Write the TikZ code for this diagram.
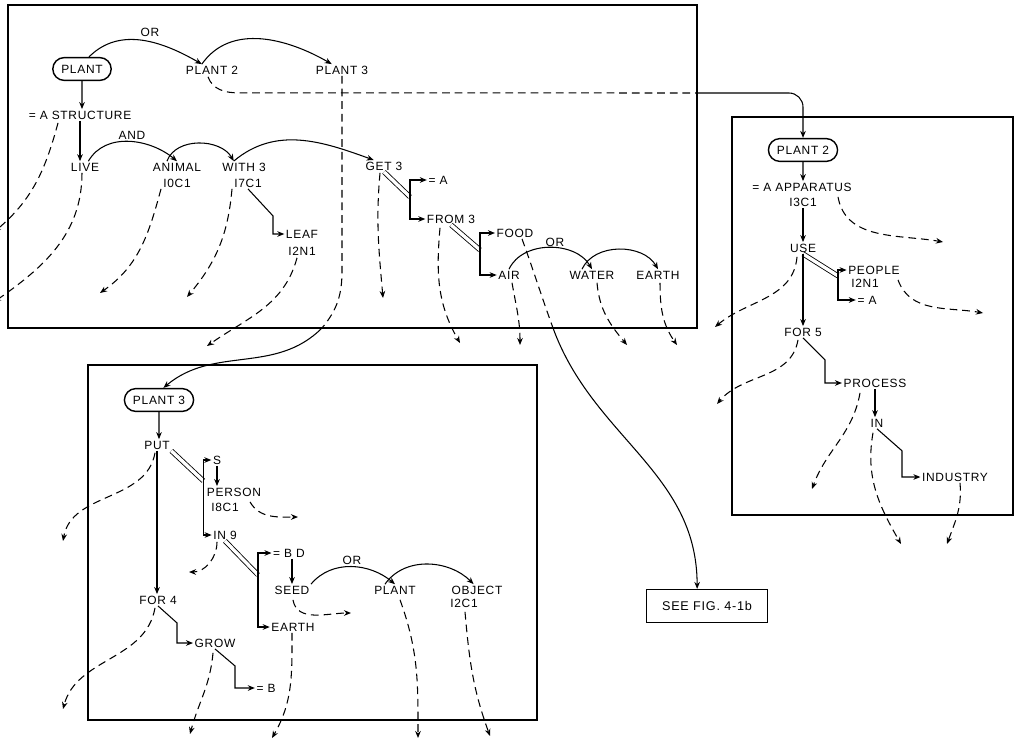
\documentclass[tikz,border=0pt]{standalone}
\usepackage{fontspec}
\newfontfamily\netfont[LetterSpace=6]{Liberation Sans}
\usetikzlibrary{arrows.meta, shapes.misc}
\tikzstyle{word}=[inner sep=1pt, font=\netfont\fontsize{8.5}{10}\selectfont]
\tikzstyle{head}=[word, rounded rectangle, draw, line width=1pt, inner xsep=5.5pt, minimum height=0.57cm]
\tikzstyle{link}=[line width=0.75pt, -{Stealth[length=5pt,width=4pt]}]
\tikzstyle{dashes}=[line width=0.75pt, dash pattern=on 5.5pt off 3.5pt]
\tikzstyle{assoc}=[dashes, -{Stealth[length=5pt,width=4pt]}]
\tikzstyle{pair}=[line width=0.6pt, double, double distance=2.4pt]
\tikzstyle{frame}=[line width=1.4pt]

\begin{document}
\begin{tikzpicture}[x=0.025cm, y=-0.025cm]
\useasboundingbox (0,0) rectangle (1016,741);

% Frames
\draw[frame] (8,5) rectangle (697,328);
\draw[frame] (88,365) rectangle (537,720);
\draw[frame] (732,117) rectangle (1013,515);

% PLANT, first sense
\node[head] (plant) at (82,69) {PLANT};
\node[word] (plantb) at (212,70) {PLANT 2};
\node[word] (plantc) at (342,70) {PLANT 3};
\node[word] (ortop) at (150,32) {OR};
\node[word] (structure) at (80,115) {= A STRUCTURE};
\node[word] (live) at (85,167) {LIVE};
\node[word] (andtop) at (132,135) {AND};
\node[word] (animal) at (177,167) {ANIMAL};
\node[word] (animalid) at (177,183) {I0C1};
\node[word] (with) at (244,167) {WITH 3};
\node[word] (withid) at (248,183) {I7C1};
\node[word] (leaf) at (302,234) {LEAF};
\node[word] (leafid) at (302,251) {I2N1};
\node[word] (get) at (384,166) {GET 3};
\node[word] (geta) at (438,180) {= A};
\node[word] (from) at (451,219) {FROM 3};
\node[word] (food) at (515,233) {FOOD};
\node[word] (orair) at (555,242) {OR};
\node[word] (air) at (509,275) {AIR};
\node[word] (water) at (592,275) {WATER};
\node[word] (earth) at (658,275) {EARTH};

% PLANT 2
\node[head] (plantr) at (803,150) {PLANT 2};
\node[word] (apparatus) at (802,187) {= A APPARATUS};
\node[word] (apparatusid) at (803,202) {I3C1};
\node[word] (use) at (803,248) {USE};
\node[word] (people) at (874,270) {PEOPLE};
\node[word] (peopleid) at (865,283) {I2N1};
\node[word] (usea) at (867,300) {= A};
\node[word] (forfive) at (803,332) {FOR 5};
\node[word] (process) at (875,383) {PROCESS};
\node[word] (inp) at (877,423) {IN};
\node[word] (industry) at (955,477) {INDUSTRY};

% PLANT 3
\node[head] (plantl) at (159,400) {PLANT 3};
\node[word] (put) at (157,445) {PUT};
\node[word] (subj) at (217,460) {S};
\node[word] (person) at (234,492) {PERSON};
\node[word] (personid) at (225,507) {I8C1};
\node[word] (innine) at (225,535) {IN 9};
\node[word] (bd) at (289,553) {= B D};
\node[word] (seed) at (292,590) {SEED};
\node[word] (orlow) at (352,560) {OR};
\node[word] (plantd) at (395,590) {PLANT};
\node[word] (object) at (477,590) {OBJECT};
\node[word] (objectid) at (464,603) {I2C1};
\node[word] (earthb) at (293,627) {EARTH};
\node[word] (forfour) at (158,600) {FOR 4};
\node[word] (grow) at (215,643) {GROW};
\node[word] (growb) at (266,688) {= B};

\node[word, draw, line width=1pt, minimum width=3.02cm, minimum height=0.82cm, font=\netfont\fontsize{9}{10}\selectfont] (see) at (707,606) {SEE FIG. 4-1b};

% where the long lines leave a frame
\coordinate (cut2) at (696,93);
\coordinate (cut3) at (322,328);
\coordinate (cutfood) at (553,328);

% OR / AND arcs
\draw[link] (plant.60) to[out=45,in=150] (plantb.150);
\draw[link] (plantb.150) to[out=55,in=150] (plantc.150);
\draw[link] (live.60) to[out=60,in=140] (animal.north);
\draw[link] (animal.150) to[out=70,in=120] (with.150);
\draw[link] (with.150) to[out=40,in=160] (get.150);
\draw[link] (air.north) to[out=65,in=120] (water.north);
\draw[link] (water.150) to[out=65,in=120] (earth.north);
\draw[link] (seed.north east) to[out=50,in=140] (plantd.north);
\draw[link] (plantd.150) to[out=55,in=135] (object.120);

% straight links
\draw[link] (plant) -- (plant |- structure.north);
\draw[link] (structure) -- (structure |- live.north);
\draw[link] (withid.south) -- ++(25,27) |- (leaf);
\draw[pair] (get.south) -- ++(26,25) coordinate (getfork);
\draw[link] (getfork) |- (geta);
\draw[link] (getfork) |- (from);
\draw[pair] (from.south) -- ++(29,25) coordinate (fromfork);
\draw[link] (fromfork) |- (food);
\draw[link] (fromfork) |- (air);

\draw[link] (plantr) -- (plantr |- apparatus.north);
\draw[link] (apparatusid) -- (use);
\draw[pair] (use.south) -- ++(35,22) coordinate (usefork);
\draw[link] (usefork) |- (people);
\draw[link] (usefork) |- (usea);
\draw[link] (use) -- (use |- forfive.north);
\draw[link] (forfive.south) -- ++(22,22) |- (process);
\draw[link] (process) -- (process |- inp.north);
\draw[link] (inp.south) -- ++(25,22) |- (industry);

\draw[link] (plantl) -- (plantl |- put.north);
\draw[link] (put) -- (put |- forfour.north);
\draw[pair] (put.south east) -- ++(32,30) coordinate (putfork);
\draw[link] (putfork) |- (subj);
\draw[link] (putfork) |- (innine);
\draw[link] (subj) -- (subj |- person.north);
\draw[pair] (innine.south) -- ++(33,34) coordinate (ninefork);
\draw[link] (ninefork) |- (bd);
\draw[link] (ninefork) |- (earthb);
\draw[link] (seed |- bd.south) -- (seed);
\draw[link] (forfour.south) -- ++(19,17) |- (grow);
\draw[link] (grow.south) -- ++(20,17) |- (growb);

% lines to the other senses
\draw[dashes] ([shift={(-4,1)}]plantb.south) to[out=-70,in=180] ++(30,16) -- (cut2);
\draw[link, rounded corners=10pt] (cut2) -| (plantr);
\draw[dashes] (plantc.south) -- ++(0,195) to[out=-90,in=50] (cut3);
\draw[link] (cut3) to[out=-135,in=40] (plantl.70);
\draw[dashes] ([shift={(7,0)}]food.south) to[out=-70,in=110] (cutfood);
\draw[link] (cutfood) to[out=-70,in=90] (see.120);

% dashed associations
\foreach \n/\dx/\dy/\ex/\ey/\o/\i in {
  structure/-22/2/-6/232/-105/40,
  live/-3/0/-6/302/-90/35,
  animalid/-16/0/100/293/-105/35,
  withid/-16/0/187/297/-95/50,
  leafid/-5/1/207/346/-105/35,
  get/-4/1/383/298/-95/95,
  from/-11/3/460/343/-95/120,
  air/3/2/520/345/-80/90,
  water/5/2/627/345/-85/130,
  earth/2/2/677/345/-90/125,
  apparatus/36/4/943/242/-80/170,
  use/-6/3/715/327/-95/40,
  people/24/4/983/313/-70/170,
  forfive/-5/2/717/404/-100/50,
  process/-15/4/812/489/-100/70,
  inp/-4/4/901/544/-100/120,
  industry/5/0/947/544/-85/70,
  put/-2/2/63/541/-100/80,
  person/16/4/298/517/-60/180,
  innine/-8/1/189/572/-90/0,
  seed/1/4/351/613/-80/180,
  plantd/5/4/418/738/-70/90,
  objectid/1/3/490/736/-85/110,
  earthb/-1/0/272/738/-90/60,
  forfour/-3/2/63/709/-100/75,
  grow/-2/4/190/734/-95/75}{
  \coordinate (\n-end) at (\ex,\ey);
  \draw[assoc] ([shift={(\dx,\dy)}]\n.south) to[out=\o,in=\i] (\n-end);
}
\end{tikzpicture}
\end{document}
